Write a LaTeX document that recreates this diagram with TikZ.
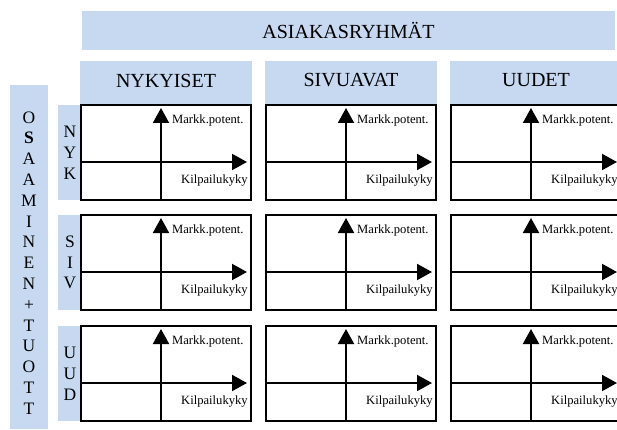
\documentclass[tikz,border=0pt]{standalone}
\usepackage{fontspec}
\setmainfont{Liberation Serif}
\usetikzlibrary{arrows.meta}
\definecolor{paleblue}{HTML}{C6D9F1}
\begin{document}
\begin{tikzpicture}[x=1pt,y=-1pt,
  band/.style={fill=paleblue, draw=none, inner sep=0pt, outer sep=0pt, anchor=north west},
  cell/.style={draw=black, line width=2pt, fill=white, inner sep=0pt, outer sep=0pt,
    anchor=north west, minimum width=170pt, minimum height=95pt},
  axis/.style={line width=2pt, -{Triangle[length=15pt,width=16pt]}},
  bigtext/.style={font=\fontsize{20}{24}\selectfont},
  stack/.style={align=center, inner sep=0pt, font=\fontsize{17.5}{20.8}\selectfont},
  axislabel/.style={inner sep=0pt, font=\fontsize{12.6}{14}\selectfont},
]
\useasboundingbox (0,0) rectangle (617,430);
\clip (0,0) rectangle (617,430);

% customer groups banner and column headers
\node[band, minimum width=533pt, minimum height=39pt] (asiakas) at (82,11) {};
\node[bigtext] (asiakastxt) at (asiakas.center) {ASIAKASRYHMÄT};

\foreach \cx/\name/\txt in {80/nyk/NYKYISET, 265/siv/SIVUAVAT, 450/uud/UUDET}{
  \node[band, minimum width=172pt, minimum height=45pt] (head-\name) at (\cx,61) {};
  \node[bigtext] at ([yshift=3pt]head-\name.center) {\txt};
}

% competence + products column
\node[band, minimum width=38pt, minimum height=344pt] (osaaminen) at (10,85) {};
\node[stack] (osaamistxt) at (29,263)
  {O\\\textbf{S}\\A\\A\\M\\I\\N\\E\\N\\+\\T\\U\\O\\T\\T};

% row labels
\foreach \ry/\name/\a/\b/\c in {105/rnyk/N/Y/K, 215/rsiv/S/I/V, 326/ruud/U/U/D}{
  \node[band, minimum width=24pt, minimum height=95pt] (\name) at (58,\ry) {};
  \node[stack] at ([yshift=0pt]\name.center) {\a\\\b\\\c};
}

% portfolio cells with axes
\foreach \cx [count=\i] in {81,266,451}{
  \foreach \ry [count=\j] in {105,215,326}{
    \node[cell] (cell-\i-\j) at (\cx,\ry) {};
    \coordinate (hs-\i-\j) at (\cx+1,\ry+57);
    \coordinate (he-\i-\j) at (\cx+166,\ry+57);
    \coordinate (vs-\i-\j) at (\cx+80,\ry+95);
    \coordinate (ve-\i-\j) at (\cx+80,\ry+3);
    \draw[axis] (hs-\i-\j) -- (he-\i-\j);
    \draw[axis] (vs-\i-\j) -- (ve-\i-\j);
    \node[axislabel, anchor=west] (mp-\i-\j) at (\cx+91,\ry+15) {Markk.potent.};
    \node[axislabel, anchor=west] (kl-\i-\j) at (\cx+100,\ry+75) {Kilpailukyky};
  }
}
\end{tikzpicture}
\end{document}
